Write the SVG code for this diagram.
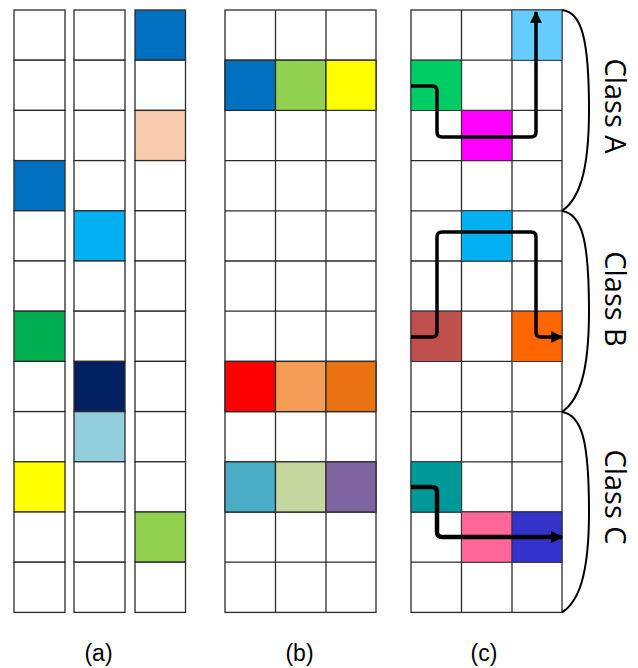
<svg xmlns="http://www.w3.org/2000/svg" width="638" height="668" viewBox="0 0 638 668">
<defs>
<style>
.c{stroke:#2b2b2b;stroke-width:1.3;fill:#fff}
.p{fill:none;stroke:#000;stroke-linejoin:round;stroke-linecap:butt}
.br{fill:none;stroke:#000;stroke-width:2}
.lbl{font-family:"Liberation Sans",Arial,sans-serif;font-size:23px;fill:#000;text-anchor:middle}
.cls{font-family:"Open Sans","Noto Sans",sans-serif;font-size:29px;fill:#000;text-anchor:middle}
</style>
<marker id="ah" viewBox="0 0 10 10" refX="9" refY="5" markerWidth="3.4" markerHeight="3.4" orient="auto" markerUnits="strokeWidth">
<path d="M0,0 L10,5 L0,10 Z" fill="#000"/>
</marker>
<marker id="ah2" viewBox="0 0 10 10" refX="9" refY="5" markerWidth="2.8" markerHeight="2.8" orient="auto" markerUnits="strokeWidth">
<path d="M0,0 L10,5 L0,10 Z" fill="#000"/>
</marker>
</defs>
<rect width="638" height="668" fill="#fff"/>

<!-- (a) column 1 -->
<g id="a-col1">
<rect class="c" x="14" y="10" width="51" height="50.2"/>
<rect class="c" x="14" y="60.2" width="51" height="50.2"/>
<rect class="c" x="14" y="110.4" width="51" height="50.2"/>
<rect class="c" x="14" y="160.6" width="51" height="50.2" fill="#0070C0" style="fill:#0070C0"/>
<rect class="c" x="14" y="210.8" width="51" height="50.2"/>
<rect class="c" x="14" y="261" width="51" height="50.2"/>
<rect class="c" x="14" y="311.2" width="51" height="50.2" style="fill:#00B050"/>
<rect class="c" x="14" y="361.4" width="51" height="50.2"/>
<rect class="c" x="14" y="411.6" width="51" height="50.2"/>
<rect class="c" x="14" y="461.8" width="51" height="50.2" style="fill:#FFFF00"/>
<rect class="c" x="14" y="512" width="51" height="50.2"/>
<rect class="c" x="14" y="562.2" width="51" height="50.2"/>
</g>
<g id="a-col2">
<rect class="c" x="74" y="10" width="51" height="50.2"/>
<rect class="c" x="74" y="60.2" width="51" height="50.2"/>
<rect class="c" x="74" y="110.4" width="51" height="50.2"/>
<rect class="c" x="74" y="160.6" width="51" height="50.2"/>
<rect class="c" x="74" y="210.8" width="51" height="50.2" style="fill:#00B0F0"/>
<rect class="c" x="74" y="261" width="51" height="50.2"/>
<rect class="c" x="74" y="311.2" width="51" height="50.2"/>
<rect class="c" x="74" y="361.4" width="51" height="50.2" style="fill:#002060"/>
<rect class="c" x="74" y="411.6" width="51" height="50.2" style="fill:#92CDDC"/>
<rect class="c" x="74" y="461.8" width="51" height="50.2"/>
<rect class="c" x="74" y="512" width="51" height="50.2"/>
<rect class="c" x="74" y="562.2" width="51" height="50.2"/>
</g>
<g id="a-col3">
<rect class="c" x="135" y="10" width="50.5" height="50.2" style="fill:#0070C0"/>
<rect class="c" x="135" y="60.2" width="50.5" height="50.2"/>
<rect class="c" x="135" y="110.4" width="50.5" height="50.2" style="fill:#F8CBAD"/>
<rect class="c" x="135" y="160.6" width="50.5" height="50.2"/>
<rect class="c" x="135" y="210.8" width="50.5" height="50.2"/>
<rect class="c" x="135" y="261" width="50.5" height="50.2"/>
<rect class="c" x="135" y="311.2" width="50.5" height="50.2"/>
<rect class="c" x="135" y="361.4" width="50.5" height="50.2"/>
<rect class="c" x="135" y="411.6" width="50.5" height="50.2"/>
<rect class="c" x="135" y="461.8" width="50.5" height="50.2"/>
<rect class="c" x="135" y="512" width="50.5" height="50.2" style="fill:#92D050"/>
<rect class="c" x="135" y="562.2" width="50.5" height="50.2"/>
</g>

<!-- (b) grid -->
<g id="b-grid">
<rect class="c" x="225" y="10" width="151" height="602.4"/>
<path d="M275.5,10V612.4M326,10V612.4" stroke="#2b2b2b" stroke-width="1.3"/>
<path d="M225,60.2H376M225,110.4H376M225,160.6H376M225,210.8H376M225,261H376M225,311.2H376M225,361.4H376M225,411.6H376M225,461.8H376M225,512H376M225,562.2H376" stroke="#2b2b2b" stroke-width="1.3"/>
<rect class="c" x="225" y="60.2" width="50.5" height="50.2" style="fill:#0070C0"/>
<rect class="c" x="275.5" y="60.2" width="50.5" height="50.2" style="fill:#92D050"/>
<rect class="c" x="326" y="60.2" width="50" height="50.2" style="fill:#FFFF00"/>
<rect class="c" x="225" y="361.4" width="50.5" height="50.2" style="fill:#FF0000"/>
<rect class="c" x="275.5" y="361.4" width="50.5" height="50.2" style="fill:#F59D56"/>
<rect class="c" x="326" y="361.4" width="50" height="50.2" style="fill:#E97213"/>
<rect class="c" x="225" y="461.8" width="50.5" height="50.2" style="fill:#4BACC6"/>
<rect class="c" x="275.5" y="461.8" width="50.5" height="50.2" style="fill:#C4D79F"/>
<rect class="c" x="326" y="461.8" width="50" height="50.2" style="fill:#8064A2"/>
</g>

<!-- (c) grid -->
<g id="c-grid">
<rect class="c" x="411" y="10" width="151" height="602.4"/>
<path d="M461.5,10V612.4M512,10V612.4" stroke="#2b2b2b" stroke-width="1.3"/>
<path d="M411,60.2H562M411,110.4H562M411,160.6H562M411,210.8H562M411,261H562M411,311.2H562M411,361.4H562M411,411.6H562M411,461.8H562M411,512H562M411,562.2H562" stroke="#2b2b2b" stroke-width="1.3"/>
</g>
<g id="classA-cells">
<rect x="512" y="10" width="50" height="50.2" fill="#66CCFF" stroke="#2b2b2b" stroke-width="0.8"/>
<rect x="411" y="60.2" width="50.5" height="50.2" fill="#00CC66" stroke="#2b2b2b" stroke-width="0.8"/>
<rect x="461.5" y="110.4" width="50.5" height="50.2" fill="#FF00FF" stroke="#2b2b2b" stroke-width="0.8"/>
</g>
<g id="classB-cells">
<rect x="461.5" y="210.8" width="50.5" height="50.2" fill="#00B0F0" stroke="#2b2b2b" stroke-width="0.8"/>
<rect x="411" y="311.2" width="50.5" height="50.2" fill="#C0504D" stroke="#2b2b2b" stroke-width="0.8"/>
<rect x="512" y="311.2" width="50" height="50.2" fill="#FF6600" stroke="#2b2b2b" stroke-width="0.8"/>
</g>
<g id="classC-cells">
<rect x="411" y="461.8" width="50.5" height="50.2" fill="#009999" stroke="#2b2b2b" stroke-width="0.8"/>
<rect x="461.5" y="512" width="50.5" height="50.2" fill="#FF6699" stroke="#2b2b2b" stroke-width="0.8"/>
<rect x="512" y="512" width="50" height="50.2" fill="#3333CC" stroke="#2b2b2b" stroke-width="0.8"/>
</g>

<!-- connectors -->
<g id="connectors">
<path class="p" stroke-width="3.5" marker-end="url(#ah)" d="M411,86H432Q437,86 437,91V132Q437,137 442,137H531Q536,137 536,132V12"/>
<path class="p" stroke-width="3.5" marker-end="url(#ah)" d="M411,337H432Q437,337 437,332V237Q437,232 442,232H531Q536,232 536,237V332Q536,337 541,337H562"/>
<path class="p" stroke-width="4.5" marker-end="url(#ah2)" d="M411,487H432Q437,487 437,492V532Q437,537 442,537H562"/>
</g>

<!-- braces -->
<g id="braces">
<path class="br" d="M562,10C582,12 589,40 589,110C589,175 578,200 562,211"/>
<path class="br" d="M562,211C582,214 589,240 589,311C589,376 578,401 562,412"/>
<path class="br" d="M562,412C582,415 589,441 589,512C589,577 578,602 562,612.4"/>
</g>

<g id="labels">
<text class="cls" transform="translate(605,106) rotate(90)">Class A</text>
<text class="cls" transform="translate(605,299) rotate(90)">Class B</text>
<text class="cls" transform="translate(605,497) rotate(90)">Class C</text>
<text class="lbl" x="98.5" y="661">(a)</text>
<text class="lbl" x="299.5" y="661">(b)</text>
<text class="lbl" x="484" y="661">(c)</text>
</g>
</svg>
